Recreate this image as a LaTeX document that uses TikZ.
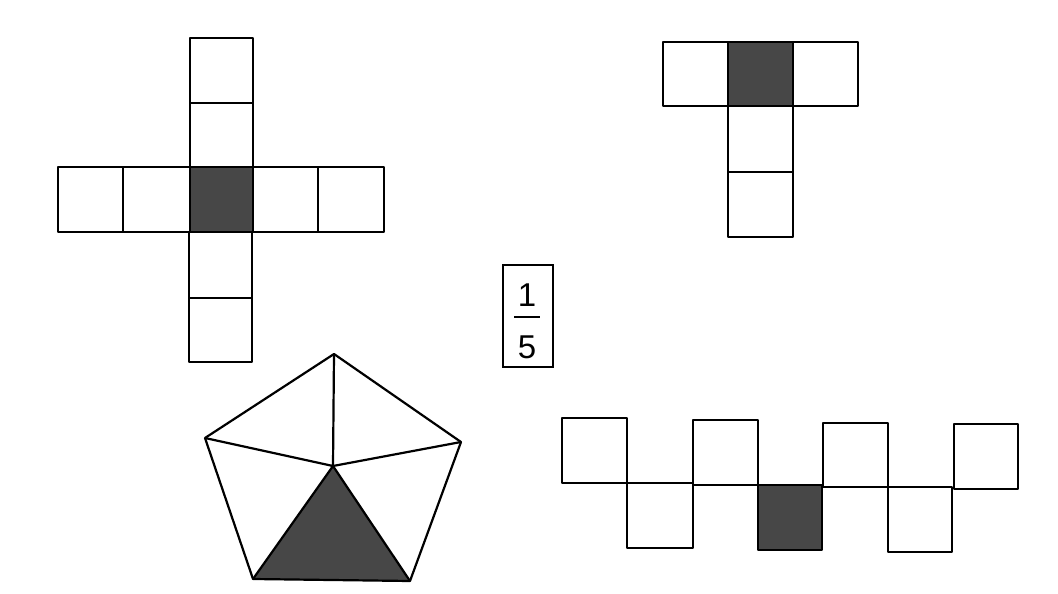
\documentclass[tikz,border=0pt]{standalone}
\usepackage{fontspec}
\setmainfont{Liberation Sans}
\begin{document}
\begin{tikzpicture}[x=1pt,y=-1pt,
  cell/.style={draw=black,line width=2.2pt,line join=round},
  shade/.style={cell,fill=black!72},
  digit/.style={font=\fontsize{33}{33}\selectfont,inner sep=0pt}]
\useasboundingbox (0,0) rectangle (1058,594);
% cross net
\draw[cell] (190,38) rectangle (253,103);
\draw[cell] (190,103) rectangle (253,167);
\draw[cell] (58,167) rectangle (123,232);
\draw[cell] (123,167) rectangle (190,232);
\draw[shade] (190,167) rectangle (253,232);
\draw[cell] (253,167) rectangle (318,232);
\draw[cell] (318,167) rectangle (384,232);
\draw[cell] (189,232) rectangle (252,298);
\draw[cell] (189,298) rectangle (252,362);
% T net
\draw[cell] (663,42) rectangle (728,106);
\draw[shade] (728,42) rectangle (793,106);
\draw[cell] (793,42) rectangle (858,106);
\draw[cell] (728,106) rectangle (793,172);
\draw[cell] (728,172) rectangle (793,237);
% fraction box
\node[draw,line width=1.8pt,minimum width=50pt,minimum height=102pt,inner sep=0pt] (frac) at (528,316) {};
\node[digit] (num) at (527,295) {1};
\node[digit] (den) at (527,347) {5};
\draw[line width=1.8pt] (514,317) -- (540,317);
% pentagon
\coordinate (T) at (334,354);
\coordinate (L) at (205,438);
\coordinate (R) at (461,442);
\coordinate (BL) at (253,579);
\coordinate (BR) at (410,581);
\coordinate (C) at (333,466);
\fill[black!72] (C) -- (BL) -- (BR) -- cycle;
\draw[cell] (T) -- (R) -- (BR) -- (BL) -- (L) -- cycle;
\draw[cell] (C) -- (T) (C) -- (L) (C) -- (R) (C) -- (BL) (C) -- (BR);
% zigzag net
\draw[cell] (562,418) rectangle (627,483);
\draw[cell] (627,483) rectangle (693,548);
\draw[cell] (693,420) rectangle (758,485);
\draw[shade] (758,485) rectangle (822,550);
\draw[cell] (823,423) rectangle (888,487);
\draw[cell] (888,487) rectangle (952,552);
\draw[cell] (954,424) rectangle (1018,489);
\end{tikzpicture}
\end{document}
